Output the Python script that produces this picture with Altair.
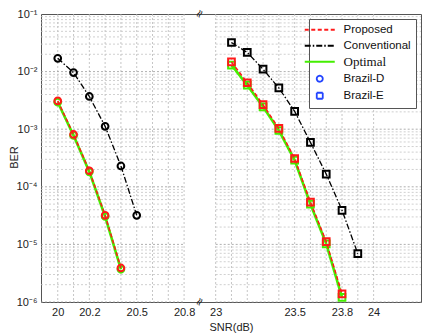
import altair as alt
import pandas as pd

# ---------------- data ----------------
left_snr = [20.0, 20.1, 20.2, 20.3, 20.4, 20.5]
left_conv = [1.7e-2, 9.6e-3, 3.7e-3, 1.12e-3, 2.3e-4, 3.2e-5]
left_prop = [3.1e-3, 8.1e-4, 1.9e-4, 3.2e-5, 3.9e-6]
left_opt = [2.95e-3, 7.8e-4, 1.82e-4, 3.05e-5, 3.7e-6]

right_snr = [23.1, 23.2, 23.3, 23.4, 23.5, 23.6, 23.7, 23.8, 23.9]
right_conv = [3.2e-2, 2.15e-2, 1.1e-2, 5.2e-3, 2.04e-3, 5.9e-4, 1.66e-4, 3.9e-5, 6.9e-6]
right_prop = [1.47e-2, 6.4e-3, 2.66e-3, 1.03e-3, 3.1e-4, 5.4e-5, 1.12e-5, 1.38e-6]
right_opt = [1.3e-2, 5.8e-3, 2.45e-3, 9.5e-4, 2.9e-4, 5.0e-5, 1.02e-5, 1.2e-6]

legend_names = ["Proposed", "Conventional", "Optimal", "Brazil-D", "Brazil-E"]
legend_colors = ["#ff1a1a", "#000000", "#44ee00", "#2244ff", "#2244ff"]

x_tick_labels = [20, 20.2, 20.5, 20.8, 23, 23.5, 23.8, 24]
y_tick_labels = ["10⁻⁶", "10⁻⁵", "10⁻⁴", "10⁻³", "10⁻²", "10⁻¹"]
y_decades = [1e-6, 1e-5, 1e-4, 1e-3, 1e-2, 1e-1]

# broken x axis: right segment shifted left by GAP
GAP = 2.0
X_MIN, X_MAX = 19.894, 22.3
BREAK = 20.9


def tx(v):
    return v - GAP if v > BREAK else v


rows = []
for name, xs, ys, seg in [
    ("Conventional", left_snr, left_conv, "L"),
    ("Proposed", left_snr, left_prop, "L"),
    ("Optimal", left_snr, left_opt, "L"),
    ("Conventional", right_snr, right_conv, "R"),
    ("Proposed", right_snr, right_prop, "R"),
    ("Optimal", right_snr, right_opt, "R"),
]:
    for x, y in zip(xs, ys):
        rows.append({"series": name, "seg": seg, "snr": x, "x": tx(x), "ber": y})
df = pd.DataFrame(rows)

# grid lines
vgrid = pd.DataFrame({"gx": [round(20.0 + 0.1 * i, 2) for i in range(9)]
                      + [round(21.0 + 0.1 * i, 2) for i in range(11)]})
hrows = []
for d in y_decades[:-1]:
    for k in range(1, 10):
        v = d * k
        for a, b in [(X_MIN, 20.8), (21.0, X_MAX)]:
            hrows.append({"gy": v, "x0": a, "x1": b, "major": k == 1})
hgrid = pd.DataFrame(hrows)

xscale = alt.Scale(domain=[X_MIN, X_MAX], nice=False, zero=False)
yscale = alt.Scale(type="log", domain=[1e-6, 1e-1], nice=False)

label_expr_x = "datum.value > %g ? format(datum.value + %g, '.1~f') : format(datum.value, '.1~f')" % (BREAK, GAP)
label_expr_y = "[" + ",".join("'%s'" % s for s in y_tick_labels) + "][round(log(datum.value)/LN10)+6]"

xaxis = alt.Axis(values=[tx(v) for v in x_tick_labels], labelExpr=label_expr_x, grid=False,
                 ticks=False, domain=False, title="SNR(dB)", labelFontSize=11, titleFontSize=11,
                 labelFont="Liberation Sans", titleFont="Liberation Sans", titleFontWeight="normal",
                 labelColor="#222", titleColor="#222", labelPadding=4, titlePadding=4)
yaxis = alt.Axis(values=y_decades, labelExpr=label_expr_y, grid=False, ticks=False, domain=False,
                 title="BER", labelFontSize=11, titleFontSize=11, labelFont="Liberation Sans",
                 titleFont="Liberation Sans", titleFontWeight="normal", labelColor="#222",
                 titleColor="#222", labelPadding=4, titleX=-22, titleY=143)

dash_map = {"Proposed": [4, 2.5], "Conventional": [6, 2, 1.5, 2], "Optimal": [1, 0]}
color_map = dict(zip(legend_names, legend_colors))
width_map = {"Optimal": 2.6, "Proposed": 1.5, "Conventional": 1.3}

base = alt.Chart(df).encode(
    x=alt.X("x:Q", scale=xscale, axis=xaxis),
    y=alt.Y("ber:Q", scale=yscale, axis=yaxis),
)

vg = alt.Chart(vgrid).mark_rule(strokeDash=[2, 2], color="#b8b8b8", strokeWidth=0.8).encode(
    x=alt.X("gx:Q", scale=xscale))
hg = alt.Chart(hgrid).mark_rule(strokeDash=[2, 2], strokeWidth=0.8).encode(
    y=alt.Y("gy:Q", scale=yscale),
    x=alt.X("x0:Q", scale=xscale),
    x2="x1:Q",
    color=alt.condition("datum.major", alt.value("#9a9a9a"), alt.value("#c4c4c4")),
)

layers = [vg, hg]
for name in ["Optimal", "Proposed", "Conventional"]:
    sub = base.transform_filter(alt.datum.series == name)
    layers.append(sub.mark_line(strokeWidth=width_map[name], strokeDash=dash_map[name],
                                color=color_map[name]).encode(detail="seg:N"))
    for seg, shp in [("L", "circle"), ("R", "square")]:
        layers.append(sub.transform_filter(alt.datum.seg == seg).mark_point(
            shape=shp, filled=False, size=45, strokeWidth=2, opacity=1, color=color_map[name]))

# legend generator layer (no visible marks, only the legend)
line_sym = "M-5,0H5"
dash_scale = alt.Scale(domain=legend_names, range=[[4, 2.5], [6, 2, 1.5, 2], [1, 0], [1, 0], [1, 0]])
leg = base.transform_filter("false").mark_point(filled=False, size=36, strokeWidth=1.8, opacity=1).encode(
    color=alt.Color("series:N", scale=alt.Scale(domain=legend_names, range=legend_colors),
                    legend=alt.Legend(
                        title=None, orient="top-right", offset=5, padding=5, fillColor="white",
                        strokeColor="#555",
                        labelFont=alt.ExprRef("datum.label == 'Optimal' ? 'Liberation Serif' : 'Liberation Sans'"),
                        labelFontSize=alt.ExprRef("datum.label == 'Optimal' ? 13 : 11.5"),
                        labelColor="#111", rowPadding=3, labelOffset=18, symbolSize=36,
                        symbolStrokeWidth=1.8, cornerRadius=0)),
    shape=alt.Shape("series:N", scale=alt.Scale(domain=legend_names,
                                                range=[line_sym, line_sym, line_sym, "circle", "square"])),
    strokeDash=alt.StrokeDash("series:N", scale=dash_scale),
)
layers.append(leg)

# axis-break marks
brk = pd.DataFrame({"bx": [BREAK, BREAK], "by": [1e-1, 1e-6]})
layers.append(alt.Chart(brk).mark_text(text="≈", fontSize=11, angle=300, color="#222",
                                      font="DejaVu Sans").encode(
    x=alt.X("bx:Q", scale=xscale), y=alt.Y("by:Q", scale=yscale)))

chart = alt.layer(*layers).properties(
    width=380, height=288, autosize="none",
    padding={"left": 33, "top": 6, "right": 7, "bottom": 31},
).configure_view(stroke="#555", strokeWidth=1)

chart.save("out.html", embed_options={"renderer": "svg", "actions": False})
